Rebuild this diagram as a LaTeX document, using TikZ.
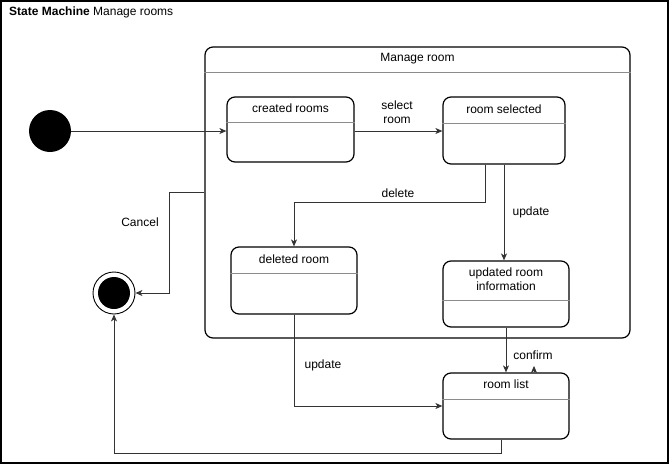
\documentclass[tikz,border=0pt]{standalone}
\usepackage{fontspec}
\setmainfont{Liberation Sans}
\usetikzlibrary{arrows.meta}
\begin{document}
\begin{tikzpicture}[x=1pt,y=-1pt,
  every node/.style={font=\fontsize{12}{14}\selectfont, inner sep=0pt},
  statebox/.style={draw=black, line width=1.2pt, rounded corners=8pt, rectangle},
  divider/.style={draw=black!45, line width=0.8pt},
  edge/.style={draw=black!80, line width=0.9pt, -{Stealth[length=7pt,width=6pt,inset=2pt]}},
  txt/.style={align=center}
]
\useasboundingbox (0,0) rectangle (670,466);
% outer frame and title
\draw[line width=2pt] (1,1) rectangle (668,463);
\node[anchor=west] (title) at (9,12) {\textbf{State Machine} Manage rooms};

% composite state
\node[statebox, minimum width=425, minimum height=291] (mr) at (417.5,192.5) {};
\draw[divider] (mr.west |- 0,72) -- (mr.east |- 0,72);
\node (mrt) at (417.5,59) {Manage room};

% initial and final pseudo-states
\node[circle, fill=black, minimum size=42] (init) at (50,131) {};
\node[circle, draw=black, line width=0.9pt, fill=white, minimum size=42] (fin) at (114,293) {};
\node[circle, fill=black, minimum size=32] (finc) at (114,293) {};

% simple states
\node[statebox, minimum width=127, minimum height=65] (cr) at (290.5,129.5) {};
\draw[divider] (cr.west |- 0,122) -- (cr.east |- 0,122);
\node (crt) at (290.5,108) {created rooms};

\node[statebox, minimum width=122, minimum height=67] (rs) at (504,130.5) {};
\draw[divider] (rs.west |- 0,123) -- (rs.east |- 0,123);
\node (rst) at (504,109) {room selected};

\node[statebox, minimum width=126, minimum height=67] (dr) at (294,280.5) {};
\draw[divider] (dr.west |- 0,273) -- (dr.east |- 0,273);
\node (drt) at (294,259) {deleted room};

\node[statebox, minimum width=126, minimum height=66] (ur) at (506,294) {};
\draw[divider] (ur.west |- 0,300) -- (ur.east |- 0,300);
\node[txt] (urt) at (506,279) {updated room\\information};

\node[statebox, minimum width=126, minimum height=66] (rl) at (506,406) {};
\draw[divider] (rl.west |- 0,399) -- (rl.east |- 0,399);
\node (rlt) at (506,384) {room list};

% transitions
\draw[edge] (init.east) -- (init.east -| cr.west);
\draw[edge] (cr.east |- init) -- (rs.west |- init);
\node[txt] (l1) at (397,112) {select\\room};

\draw[edge] ([xshift=-19]rs.south) |- ([yshift=44]dr.north) -- (dr.north);
\node (l2) at (398,193) {delete};

\draw[edge] (rs.south) -- (rs.south |- ur.north);
\node (l3) at (531,212) {update};

\draw[edge] (mr.west) -- ++(-35,0) |- (fin.east);
\node (l4) at (140,222) {Cancel};

\draw[edge] (dr.south) |- (rl.west);
\node (l5) at (323,365) {update};

\draw[edge] (ur.south) -- (rl.north);
\node (l6) at (533,355) {confirm};
\coordinate (stub) at ([xshift=28]rl.north);
\draw[edge] (stub) -- ++(0,-6.5);

\draw[edge] ([xshift=-5]rl.south) -- ++(0,14) -| (fin.south);
\end{tikzpicture}
\end{document}
